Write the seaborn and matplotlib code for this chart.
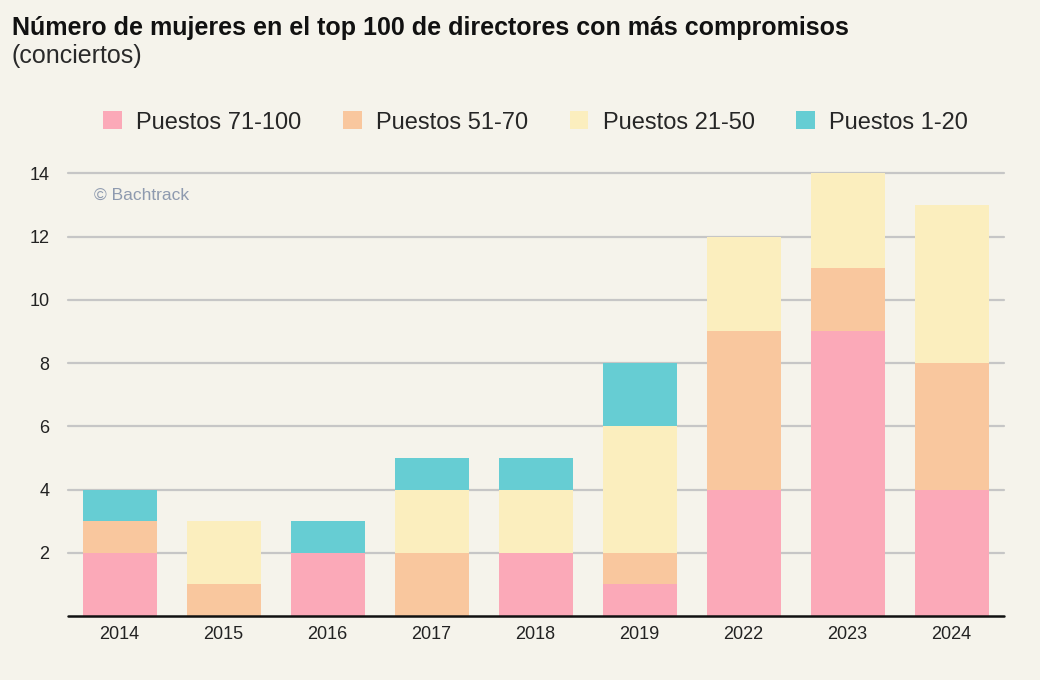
import numpy as np
import pandas as pd
import matplotlib
matplotlib.use("Agg")
import matplotlib.pyplot as plt
from matplotlib.patches import Patch
import seaborn as sns

# ----------------------------
# Data
# ----------------------------
years = ["2014", "2015", "2016", "2017", "2018", "2019", "2022", "2023", "2024"]
puestos_71_100 = [2, 0, 2, 0, 2, 1, 4, 9, 4]
puestos_51_70 = [1, 1, 0, 2, 0, 1, 5, 2, 4]
puestos_21_50 = [0, 2, 0, 2, 2, 4, 3, 3, 5]
puestos_1_20 = [1, 0, 1, 1, 1, 2, 0, 0, 0]

layer_names = ["Puestos 71-100", "Puestos 51-70", "Puestos 21-50", "Puestos 1-20"]
layer_values = [puestos_71_100, puestos_51_70, puestos_21_50, puestos_1_20]
layer_colors = ["#FBA9B8", "#F9C79E", "#FBEEBE", "#66CDD3"]
y_ticks = [2, 4, 6, 8, 10, 12, 14]

BG = "#F5F3EB"

# ----------------------------
# Style
# ----------------------------
sns.set_theme(style="white")
plt.rcParams["font.family"] = ["Liberation Sans", "DejaVu Sans"]
plt.rcParams["figure.facecolor"] = BG
plt.rcParams["axes.facecolor"] = BG

fig = plt.figure(figsize=(10.4, 6.8), dpi=100)
ax = fig.add_axes([0.065, 0.094, 0.900, 0.652])

# ----------------------------
# Stacked bars, one seaborn call per layer
# ----------------------------
bottom = np.zeros(len(years))
for name, vals, col in zip(layer_names, layer_values, layer_colors):
    df = pd.DataFrame({"year": years, "value": vals})
    sns.barplot(data=df, x="year", y="value", order=years, color=col,
                bottom=bottom, width=0.71, saturation=1, errorbar=None,
                linewidth=0, ax=ax, zorder=3)
    bottom = bottom + np.array(vals)

# ----------------------------
# Axes styling
# ----------------------------
ax.set_xlim(-0.5, len(years) - 0.5)
ax.set_ylim(0, 14.02)
ax.set_yticks(y_ticks)
ax.set_yticklabels([str(t) for t in y_ticks])
ax.set_xlabel("")
ax.set_ylabel("")
for t in y_ticks:
    ax.axhline(t, color="#C6C6C6", linewidth=1.6, zorder=1, clip_on=False)
ax.axhline(0, color="#111111", linewidth=1.8, zorder=4, clip_on=False)
for s in ax.spines.values():
    s.set_visible(False)
ax.tick_params(axis="both", length=0, labelsize=13, colors="#222222")
ax.tick_params(axis="y", pad=13)
ax.tick_params(axis="x", pad=7)
for lbl in ax.get_yticklabels():
    lbl.set_horizontalalignment("right")

# watermark
ax.text(0.028, 0.95, "© Bachtrack", transform=ax.transAxes,
        fontsize=12.5, color="#8E9AAF", va="center", ha="left")

# ----------------------------
# Titles and legend
# ----------------------------
fig.text(0.0115, 0.959, "Número de mujeres en el top 100 de directores con más compromisos",
         fontsize=18, fontweight="bold", color="#111111", va="center", ha="left")
fig.text(0.0115, 0.917, "(conciertos)", fontsize=18, color="#2A2A2A",
         va="center", ha="left")

handles = [Patch(facecolor=c, edgecolor="none", label=n)
           for n, c in zip(layer_names, layer_colors)]
fig.legend(handles=handles, loc="center", bbox_to_anchor=(0.515, 0.820), ncol=4,
           frameon=False, fontsize=17, handlelength=0.8, handleheight=0.8,
           handletextpad=0.6, columnspacing=1.75)

fig.savefig("out.png", dpi=100, facecolor=BG)
